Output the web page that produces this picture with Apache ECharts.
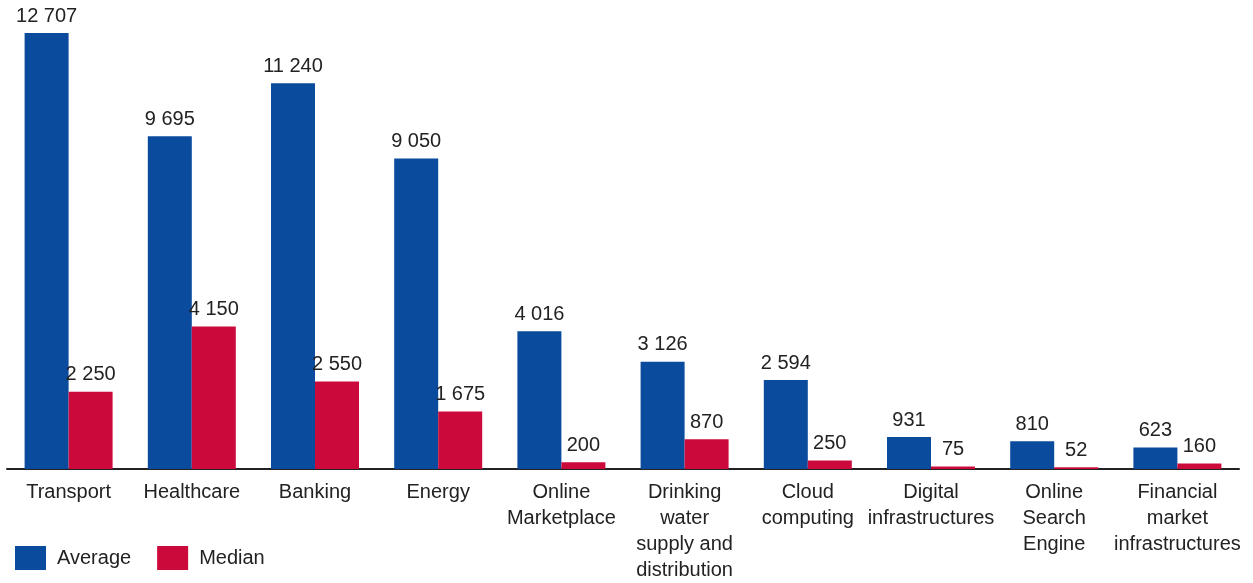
<!DOCTYPE html>
<html>
<head>
<meta charset="utf-8">
<script src="https://cdn.jsdelivr.net/npm/echarts@6/dist/echarts.min.js"></script>
<style>
  html, body { margin: 0; padding: 0; background: #fff; }
  #main { width: 1253px; height: 583px; }
</style>
</head>
<body>
<div id="main"></div>
<script>
var sectors = ['Transport', 'Healthcare', 'Banking', 'Energy', 'Online\nMarketplace',
    'Drinking\nwater\nsupply and\ndistribution', 'Cloud\ncomputing', 'Digital\ninfrastructures',
    'Online\nSearch\nEngine', 'Financial\nmarket\ninfrastructures'];
var average = [12707, 9695, 11240, 9050, 4016, 3126, 2594, 931, 810, 623];
var median = [2250, 4150, 2550, 1675, 200, 870, 250, 75, 52, 160];

// espace comme séparateur de milliers
function fmt(p) {
    return String(p.value).replace(/\B(?=(\d{3})+(?!\d))/g, ' ');
}

var myChart = echarts.init(document.getElementById('main'));
var labelStyle = {
    show: true,
    position: 'top',
    distance: 7,
    color: '#222',
    fontSize: 20,
    fontFamily: 'Liberation Sans, Arial, sans-serif',
    formatter: fmt
};

var option = {
    animation: false,
    textStyle: {fontFamily: 'Liberation Sans, Arial, sans-serif'},
    legend: {
        left: 10,
        top: 541,
        icon: 'rect',
        itemWidth: 31,
        itemHeight: 24,
        itemGap: 26,
        textStyle: {fontSize: 20, color: '#222', padding: [0, 0, 0, 6]},
        data: ['Average', 'Median']
    },
    grid: {left: 7, right: 14, top: 33, bottom: 113, containLabel: false},
    xAxis: {
        type: 'category',
        data: sectors,
        axisLine: {lineStyle: {color: '#222', width: 2}},
        axisTick: {show: false},
        axisLabel: {interval: 0, fontSize: 20, color: '#222', lineHeight: 26, margin: 10}
    },
    yAxis: {
        type: 'value',
        min: 0,
        max: 12707,
        show: false,
        splitLine: {show: false}
    },
    series: [
        {
            name: 'Average',
            type: 'bar',
            data: average,
            barWidth: 44,
            barGap: '0%',
            itemStyle: {color: '#0b4b9d'},
            label: labelStyle
        },
        {
            name: 'Median',
            type: 'bar',
            data: median,
            barWidth: 44,
            itemStyle: {color: '#cb0a3b'},
            label: labelStyle
        }
    ]
};
myChart.setOption(option);
</script>
</body>
</html>
